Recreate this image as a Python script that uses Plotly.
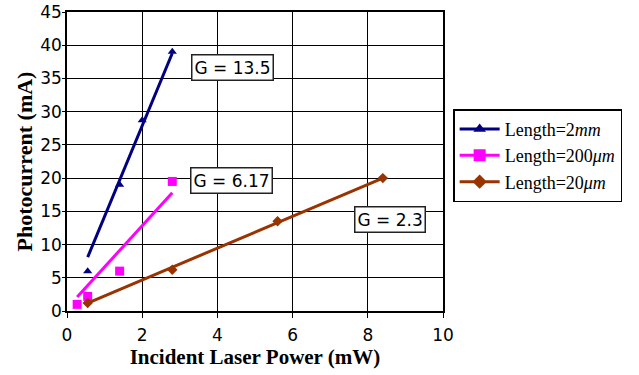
import plotly.graph_objects as go

# Data
x_2mm = [0.55, 1.4, 2.0, 2.8]
y_2mm = [6.0, 19.0, 28.7, 39.0]
fit_x_2mm = [0.55, 2.8]
fit_y_2mm = [8.1, 38.8]

x_200um = [0.27, 0.55, 1.4, 2.8]
y_200um = [1.0, 2.2, 6.0, 19.5]
fit_x_200um = [0.27, 2.8]
fit_y_200um = [2.1, 17.8]

x_20um = [0.55, 2.8, 5.6, 8.4]
y_20um = [1.2, 6.2, 13.5, 20.0]
fit_x_20um = [0.55, 8.4]
fit_y_20um = [1.2, 20.0]

names = ["Length=2<i>mm</i>", "Length=200<i>μm</i>", "Length=20<i>μm</i>"]
gains = ["G = 13.5", "G = 6.17", "G = 2.3"]
gain_pos_x = [4.4, 4.37, 8.6]
gain_pos_y = [36.7, 19.65, 13.8]

colors = ["#000080", "#FF00FF", "#993300"]
symbols = ["triangle-up", "square", "diamond"]
msizes = [8, 9, 8]

series = [
    (x_2mm, y_2mm, fit_x_2mm, fit_y_2mm),
    (x_200um, y_200um, fit_x_200um, fit_y_200um),
    (x_20um, y_20um, fit_x_20um, fit_y_20um),
]

fig = go.Figure()
for i, (xs, ys, fx, fy) in enumerate(series):
    fig.add_trace(go.Scatter(x=fx, y=fy, mode="lines",
                             line=dict(color=colors[i], width=3),
                             showlegend=False, hoverinfo="skip"))
    fig.add_trace(go.Scatter(x=xs, y=ys, mode="markers",
                             marker=dict(color=colors[i], symbol=symbols[i], size=msizes[i]),
                             showlegend=False))
for i in range(3):
    fig.add_trace(go.Scatter(x=[None], y=[None], mode="lines+markers", name=names[i],
                             line=dict(color=colors[i], width=3),
                             marker=dict(color=colors[i], symbol=symbols[i], size=msizes[i] + 3)))

for i in range(3):
    fig.add_annotation(x=gain_pos_x[i], y=gain_pos_y[i], xref="x", yref="y",
                       text=gains[i], showarrow=False,
                       font=dict(family="DejaVu Sans", size=17, color="black"),
                       bgcolor="white", bordercolor="#222", borderwidth=1.5, borderpad=2)

fig.update_layout(
    width=639, height=375,
    margin=dict(l=67, r=196, t=12, b=64, autoexpand=False),
    paper_bgcolor="white", plot_bgcolor="white",
    font=dict(family="DejaVu Sans", size=17, color="black"),
    legend=dict(x=1.027, y=0.675, xanchor="left", yanchor="top",
                bordercolor="black", borderwidth=1.5,
                font=dict(family="Liberation Serif", size=18, color="black"),
                tracegroupgap=0, itemwidth=40),
    xaxis=dict(range=[0, 10], dtick=2, tick0=0, automargin=False,
               showgrid=True, gridcolor="black", gridwidth=1,
               showline=True, linecolor="black", linewidth=1.5, mirror=True,
               ticks="outside", ticklen=5, tickcolor="black",
               ticklabelstandoff=3, ticklabeloverflow="allow",
               zeroline=False,
               title=dict(text="<b>Incident Laser Power (mW)</b>",
                          font=dict(family="Liberation Serif", size=21), standoff=2),
               tickfont=dict(family="DejaVu Sans", size=17)),
    yaxis=dict(range=[0, 45], dtick=5, tick0=0, automargin=False,
               showgrid=True, gridcolor="black", gridwidth=1,
               showline=True, linecolor="black", linewidth=1.5, mirror=True,
               ticks="outside", ticklen=3, tickcolor="black",
               ticklabelstandoff=-3, ticklabeloverflow="allow",
               zeroline=False,
               title=dict(text="<b>Photocurrent (mA)</b>",
                          font=dict(family="Liberation Serif", size=22), standoff=2),
               tickfont=dict(family="DejaVu Sans", size=17)),
)

fig.write_html("out.html")
